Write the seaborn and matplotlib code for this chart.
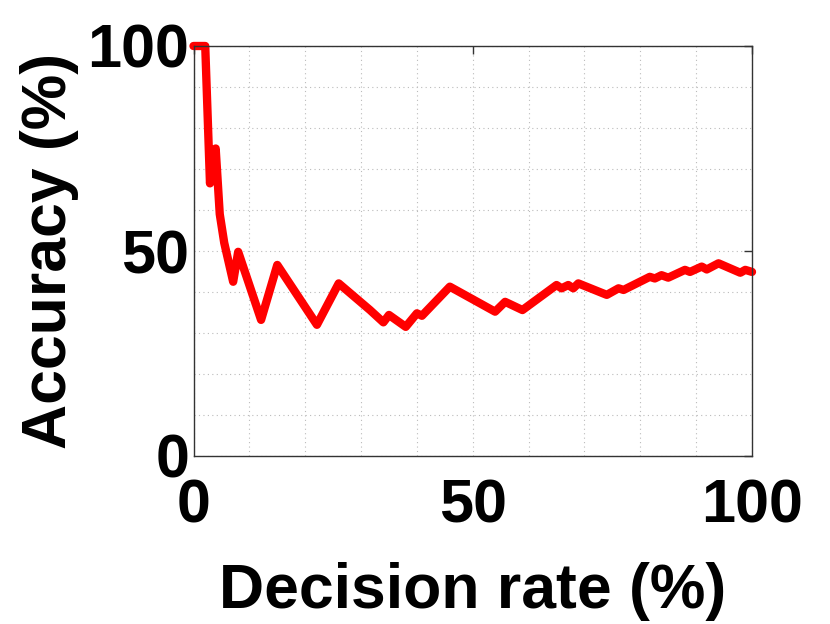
import matplotlib
matplotlib.use("Agg")
import matplotlib.pyplot as plt
import seaborn as sns
import pandas as pd
from matplotlib.ticker import MultipleLocator

decision_rate = [0, 2.1, 2.95, 3.97, 4.7, 5.5, 7.1, 8.0, 12.1, 15.0, 22.1, 26.0, 31.6, 34.0, 35.0, 38.0,
                 40.0, 40.9, 45.9, 54.0, 55.8, 58.9, 65.0, 65.9, 67.1, 68.0, 68.9, 74.0, 76.1, 77.0,
                 81.7, 82.6, 83.8, 85.0, 88.0, 88.9, 91.0, 91.9, 94.0, 97.9, 98.8, 100]
accuracy = [100, 100, 66.5, 75, 59, 52, 42.5, 49.8, 33.2, 46.6, 32, 42.1, 35.6, 32.6, 34.4, 31.5,
            34.8, 34.2, 41.3, 35.2, 37.6, 35.6, 41.7, 40.9, 41.7, 40.9, 42.1, 39.3, 40.9, 40.5,
            43.7, 43.3, 44.1, 43.5, 45.4, 44.9, 46.2, 45.5, 47.0, 44.7, 45.4, 44.9]

df = pd.DataFrame({"Decision rate (%)": decision_rate, "Accuracy (%)": accuracy})

sns.set_style("white")
plt.rcParams['font.family'] = ['Liberation Sans', 'DejaVu Sans']
plt.rcParams['text.color'] = 'black'
plt.rcParams['axes.labelcolor'] = 'black'
plt.rcParams['xtick.color'] = 'black'
plt.rcParams['ytick.color'] = 'black'

fig = plt.figure(figsize=(8.3, 6.24), dpi=100)
ax = fig.add_axes([193.5/830, 1-456/624, (752-193.5)/830, (456-46)/624])

sns.lineplot(data=df, x="Decision rate (%)", y="Accuracy (%)", ax=ax, color="#ff0000",
             linewidth=6, solid_joinstyle="round", solid_capstyle="round", clip_on=False)

ax.set_xlim(0, 100)
ax.set_ylim(0, 100)
ax.xaxis.set_major_locator(MultipleLocator(50))
ax.yaxis.set_major_locator(MultipleLocator(50))
ax.xaxis.set_minor_locator(MultipleLocator(10))
ax.yaxis.set_minor_locator(MultipleLocator(10))
ax.grid(True, which="both", linestyle=(0, (1, 3)), color="#bbbbbb", linewidth=0.8)
ax.set_axisbelow(True)
ax.tick_params(which="major", direction="in", length=6, width=1, top=True, right=True,
               labelsize=44, color="#333333", labelcolor="black")
ax.tick_params(axis="x", which="major", pad=16)
ax.tick_params(axis="y", which="major", pad=3)
ax.tick_params(which="minor", length=0)
for lab in ax.get_xticklabels() + ax.get_yticklabels():
    lab.set_fontweight("bold")
for s in ax.spines.values():
    s.set_color("#333333")
    s.set_linewidth(1)
ax.set_xlabel("Decision rate (%)", fontsize=45, fontweight="bold", labelpad=19, color="black")
ax.set_ylabel("Accuracy (%)", fontsize=45, fontweight="bold", labelpad=6, color="black")

fig.savefig("out.png", dpi=100)
